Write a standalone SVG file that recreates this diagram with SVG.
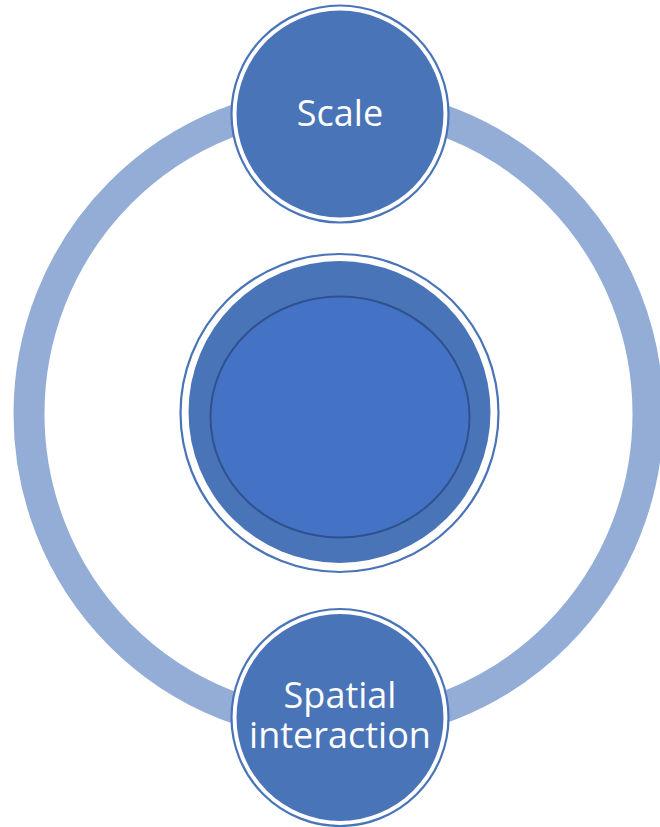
<svg xmlns="http://www.w3.org/2000/svg" width="660" height="827" viewBox="0 0 660 827">
<style>
.ring{fill:none;stroke:#94add6;stroke-width:31}
.outer{fill:#ffffff;stroke:#4a74b8;stroke-width:2.2}
.fill{fill:#4a74b8}
.lbl{font-family:"Open Sans","Noto Sans",sans-serif;font-size:36px;fill:#ffffff;text-anchor:middle}
</style>
<rect width="660" height="827" fill="#ffffff"/>
<g id="connectors">
<ellipse class="ring" cx="338.5" cy="414" rx="309.5" ry="312"/>
</g>
<g id="center">
<circle class="outer" cx="339.5" cy="413" r="159"/>
<circle class="fill" cx="339.5" cy="412" r="151"/>
<ellipse cx="340" cy="417" rx="129.5" ry="120.5" fill="#4472c4" stroke="#2f528f" stroke-width="2"/>
</g>
<g id="scale">
<circle class="outer" cx="340" cy="114" r="108.5"/>
<circle class="fill" cx="340" cy="114" r="103.5"/>
<text class="lbl" x="340" y="126">Scale</text>
</g>
<g id="spatial">
<circle class="outer" cx="340" cy="717.5" r="108.5"/>
<circle class="fill" cx="340" cy="717.5" r="103.5"/>
<text class="lbl" x="340" y="708">Spatial</text>
<text class="lbl" x="340" y="748">interaction</text>
</g>
</svg>
